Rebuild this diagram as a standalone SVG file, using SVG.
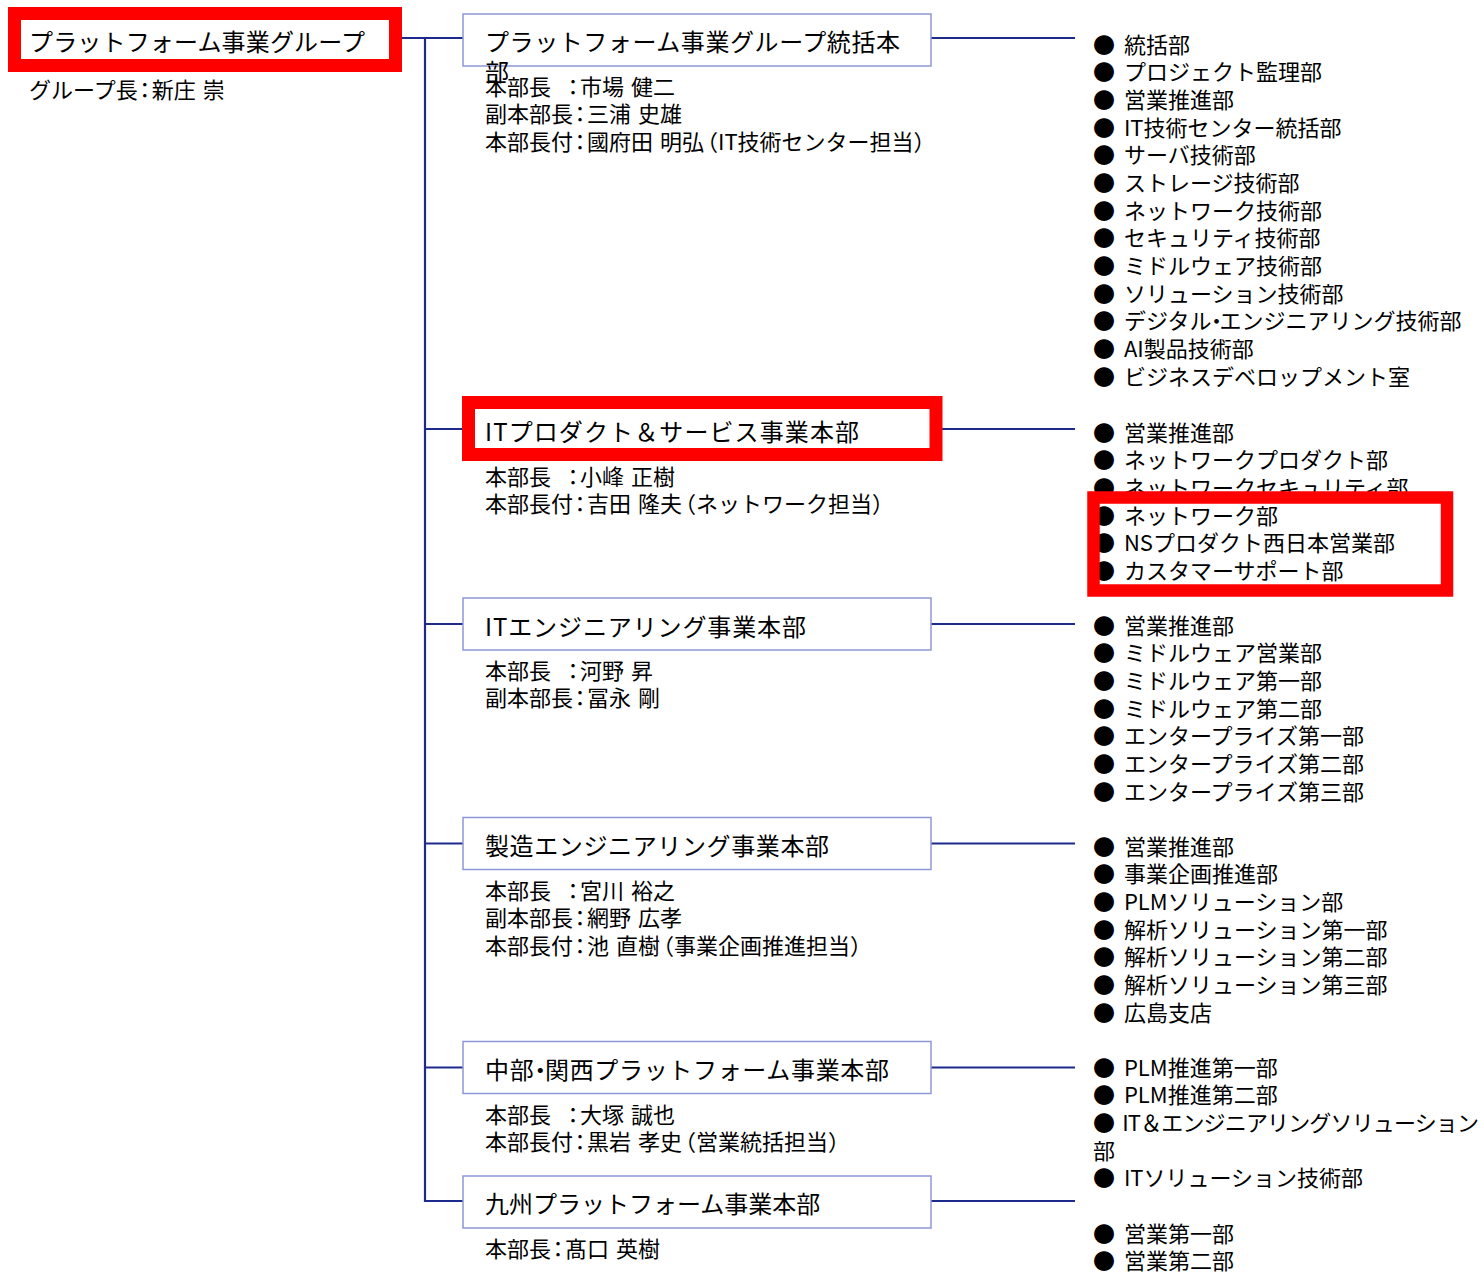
<svg xmlns="http://www.w3.org/2000/svg" width="1481" height="1272" viewBox="0 0 1481 1272">
<style>
text{font-family:"Noto Sans CJK JP","Noto Sans",sans-serif;fill:#000}
.t{font-size:24px}
.s{font-size:22px;word-spacing:4px}
.n{font-size:22px;word-spacing:2px}
.c{letter-spacing:-4px}
.w{letter-spacing:-7px}
.d{letter-spacing:-8px}
.box{fill:#fff;stroke:#8e98d8;stroke-width:1.5}
.red{fill:none;stroke:#ff0000}
.con{fill:none;stroke:#1c2a8c;stroke-width:2.2}
</style>
<rect width="1481" height="1272" fill="#fff"/>
<g id="connectors">
<polyline class="con" points="402,38 463,38"/>
<polyline class="con" points="425,38 425,1201 463,1201"/>
<line class="con" x1="425" y1="429" x2="463" y2="429"/>
<line class="con" x1="425" y1="624" x2="463" y2="624"/>
<line class="con" x1="425" y1="843.5" x2="463" y2="843.5"/>
<line class="con" x1="425" y1="1067.5" x2="463" y2="1067.5"/>
<line class="con" x1="931" y1="38" x2="1075" y2="38"/>
<line class="con" x1="942" y1="429" x2="1075" y2="429"/>
<line class="con" x1="931" y1="624" x2="1075" y2="624"/>
<line class="con" x1="931" y1="843.5" x2="1075" y2="843.5"/>
<line class="con" x1="931" y1="1067.5" x2="1075" y2="1067.5"/>
<line class="con" x1="931" y1="1201" x2="1075" y2="1201"/>
</g>
<g id="group-root">
<rect x="14.5" y="13.5" width="381" height="52" fill="#fff" class="red" stroke-width="13"/>
<text class="t" x="29" y="51" textLength="336">プラットフォーム事業グループ</text>
<text class="n" x="29" y="97.5">グループ長<tspan class="c" dx="-4">：</tspan>新庄 崇</text>
</g>
<g id="node-hq">
<rect class="box" x="463" y="14" width="468" height="52"/>
<text class="t" x="485" y="51" textLength="415">プラットフォーム事業グループ統括本</text>
<text class="t" x="485" y="81">部</text>
<text class="n" x="485" y="94.5">本部長<tspan class="w">　</tspan><tspan class="c" dx="-4">：</tspan>市場 健二</text>
<text class="n" x="485" y="122.2">副本部長<tspan class="c" dx="-4">：</tspan>三浦 史雄</text>
<text class="n" x="485" y="149.9">本部長付<tspan class="c" dx="-4">：</tspan>國府田 明弘<tspan dx="-8">（</tspan>IT技術センター担当）</text>
</g>
<g id="list-hq">
<text class="s" x="1093" y="52.5">● 統括部<tspan x="1093" dy="27.67">● プロジェクト監理部</tspan><tspan x="1093" dy="27.67">● 営業推進部</tspan><tspan x="1093" dy="27.67">● IT技術センター統括部</tspan><tspan x="1093" dy="27.67">● サーバ技術部</tspan><tspan x="1093" dy="27.67">● ストレージ技術部</tspan><tspan x="1093" dy="27.67">● ネットワーク技術部</tspan><tspan x="1093" dy="27.67">● セキュリティ技術部</tspan><tspan x="1093" dy="27.67">● ミドルウェア技術部</tspan><tspan x="1093" dy="27.67">● ソリューション技術部</tspan><tspan x="1093" dy="27.67">● デジタル<tspan class="d" dx="-6">・</tspan>エンジニアリング技術部</tspan><tspan x="1093" dy="27.67">● AI製品技術部</tspan><tspan x="1093" dy="27.67">● ビジネスデベロップメント室</tspan></text>
</g>
<g id="node-itps">
<rect x="468.5" y="402.5" width="467.5" height="52" fill="#fff" class="red" stroke-width="13"/>
<text class="t" x="485" y="441" textLength="374">ITプロダクト＆サービス事業本部</text>
<text class="n" x="485" y="484.5">本部長<tspan class="w">　</tspan><tspan class="c" dx="-4">：</tspan>小峰 正樹</text>
<text class="n" x="485" y="512.2">本部長付<tspan class="c" dx="-4">：</tspan>吉田 隆夫<tspan dx="-8">（</tspan>ネットワーク担当）</text>
</g>
<g id="list-itps">
<text class="s" x="1093" y="440.5">● 営業推進部<tspan x="1093" dy="27.67">● ネットワークプロダクト部</tspan><tspan x="1093" dy="27.67">● ネットワークセキュリティ部</tspan><tspan x="1093" dy="27.67">● ネットワーク部</tspan><tspan x="1093" dy="27.67">● NSプロダクト西日本営業部</tspan><tspan x="1093" dy="27.67">● カスタマーサポート部</tspan></text>
<rect x="1093.5" y="497.5" width="353.5" height="93" class="red" stroke-width="12.5"/>
</g>
<g id="node-ite">
<rect class="box" x="463" y="598" width="468" height="52"/>
<text class="t" x="485" y="636" textLength="321">ITエンジニアリング事業本部</text>
<text class="n" x="485" y="678.5">本部長<tspan class="w">　</tspan><tspan class="c" dx="-4">：</tspan>河野 昇</text>
<text class="n" x="485" y="706.2">副本部長<tspan class="c" dx="-4">：</tspan>冨永 剛</text>
</g>
<g id="list-ite">
<text class="s" x="1093" y="633.5">● 営業推進部<tspan x="1093" dy="27.67">● ミドルウェア営業部</tspan><tspan x="1093" dy="27.67">● ミドルウェア第一部</tspan><tspan x="1093" dy="27.67">● ミドルウェア第二部</tspan><tspan x="1093" dy="27.67">● エンタープライズ第一部</tspan><tspan x="1093" dy="27.67">● エンタープライズ第二部</tspan><tspan x="1093" dy="27.67">● エンタープライズ第三部</tspan></text>
</g>
<g id="node-mfg">
<rect class="box" x="463" y="817.5" width="468" height="52"/>
<text class="t" x="485" y="855" textLength="344">製造エンジニアリング事業本部</text>
<text class="n" x="485" y="898.5">本部長<tspan class="w">　</tspan><tspan class="c" dx="-4">：</tspan>宮川 裕之</text>
<text class="n" x="485" y="926.2">副本部長<tspan class="c" dx="-4">：</tspan>網野 広孝</text>
<text class="n" x="485" y="953.9">本部長付<tspan class="c" dx="-4">：</tspan>池 直樹<tspan dx="-8">（</tspan>事業企画推進担当）</text>
</g>
<g id="list-mfg">
<text class="s" x="1093" y="854.5">● 営業推進部<tspan x="1093" dy="27.67">● 事業企画推進部</tspan><tspan x="1093" dy="27.67">● PLMソリューション部</tspan><tspan x="1093" dy="27.67">● 解析ソリューション第一部</tspan><tspan x="1093" dy="27.67">● 解析ソリューション第二部</tspan><tspan x="1093" dy="27.67">● 解析ソリューション第三部</tspan><tspan x="1093" dy="27.67">● 広島支店</tspan></text>
</g>
<g id="node-chubu">
<rect class="box" x="463" y="1041.5" width="468" height="52"/>
<text class="t" x="485" y="1079" textLength="404">中部<tspan class="d" dx="-6">・</tspan>関西プラットフォーム事業本部</text>
<text class="n" x="485" y="1122.5">本部長<tspan class="w">　</tspan><tspan class="c" dx="-4">：</tspan>大塚 誠也</text>
<text class="n" x="485" y="1150.2">本部長付<tspan class="c" dx="-4">：</tspan>黒岩 孝史<tspan dx="-8">（</tspan>営業統括担当）</text>
</g>
<g id="list-chubu">
<text class="s" x="1093" y="1075.5">● PLM推進第一部<tspan x="1093" dy="27.67">● PLM推進第二部</tspan></text>
<text class="s" x="1093" y="1130.8" textLength="386">● IT＆エンジニアリングソリューション</text>
<text class="s" x="1093" y="1158.5">部<tspan x="1093" dy="27.67">● ITソリューション技術部</tspan></text>
</g>
<g id="node-kyushu">
<rect class="box" x="463" y="1176" width="468" height="52"/>
<text class="t" x="485" y="1213">九州プラットフォーム事業本部</text>
<text class="n" x="485" y="1256.5">本部長<tspan class="c" dx="-4">：</tspan>髙口 英樹</text>
</g>
<g id="list-kyushu">
<text class="s" x="1093" y="1241.5">● 営業第一部<tspan x="1093" dy="27.67">● 営業第二部</tspan></text>
</g>
</svg>
